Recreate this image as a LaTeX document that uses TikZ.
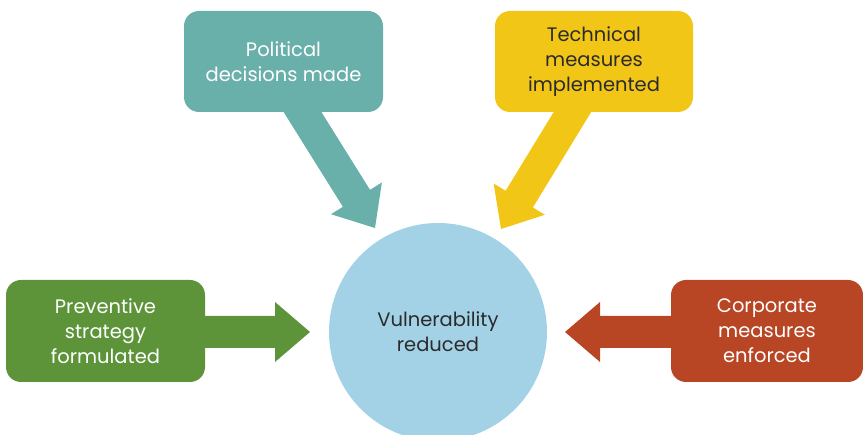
\documentclass[tikz,border=0pt]{standalone}
\usepackage{fontspec}
\setmainfont{Poppins}
\usetikzlibrary{calc}
\definecolor{cteal}{HTML}{69AFAA}
\definecolor{cyellow}{HTML}{F2C617}
\definecolor{cgreen}{HTML}{5D943A}
\definecolor{cred}{HTML}{B84524}
\definecolor{cblue}{HTML}{A3D2E7}
\definecolor{ctext}{HTML}{2B2B2B}
\newcommand{\fatarrow}[3]{%
  \path ($(#2)!35pt!(#1)$) coordinate (#2base);
  \fill[#3] ($(#1)!16pt!90:(#2)$) -- ($(#2base)!16pt!90:(#2)$)
    -- ($(#2base)!30pt!90:(#2)$) -- (#2)
    -- ($(#2base)!30pt!-90:(#2)$) -- ($(#2base)!16pt!-90:(#2)$)
    -- ($(#1)!16pt!-90:(#2)$) -- cycle;}
\begin{document}
\begin{tikzpicture}[x=1pt,y=-1pt,
  box/.style={rounded corners=15pt, minimum height=101pt, align=center,
    font=\fontsize{19.5}{25}\selectfont, inner sep=0pt},
  hub/.style={circle, fill=cblue, minimum size=218pt, align=center,
    font=\fontsize{19.5}{25}\selectfont, text=ctext, inner sep=0pt}]
\useasboundingbox (0,0) rectangle (863,435);
% arrow anchors
\coordinate (sP) at (286.6,86.6);  \coordinate (tP) at (375,228);
\coordinate (sT) at (588.1,86.4);  \coordinate (tT) at (501,229);
\coordinate (sG) at (180,332);     \coordinate (tG) at (310,332);
\coordinate (sR) at (720,332);     \coordinate (tR) at (565,332);
\fatarrow{sP}{tP}{cteal}
\fatarrow{sT}{tT}{cyellow}
\fatarrow{sG}{tG}{cgreen}
\fatarrow{sR}{tR}{cred}
% nodes
\node[hub] (hub) at (438,332) {Vulnerability\\reduced};
\node[box, fill=cteal, text=white, minimum width=199pt] (pol) at (283.5,61.5) {Political\\decisions made};
\node[box, fill=cyellow, text=ctext, minimum width=198pt] (tech) at (594,61.5) {Technical\\measures\\implemented};
\node[box, fill=cgreen, text=white, minimum width=199pt, minimum height=102pt] (prev) at (105.5,331) {Preventive\\strategy\\formulated};
\node[box, fill=cred, text=white, minimum width=192pt, minimum height=102pt] (corp) at (767,331) {Corporate\\measures\\enforced};
\end{tikzpicture}
\end{document}
